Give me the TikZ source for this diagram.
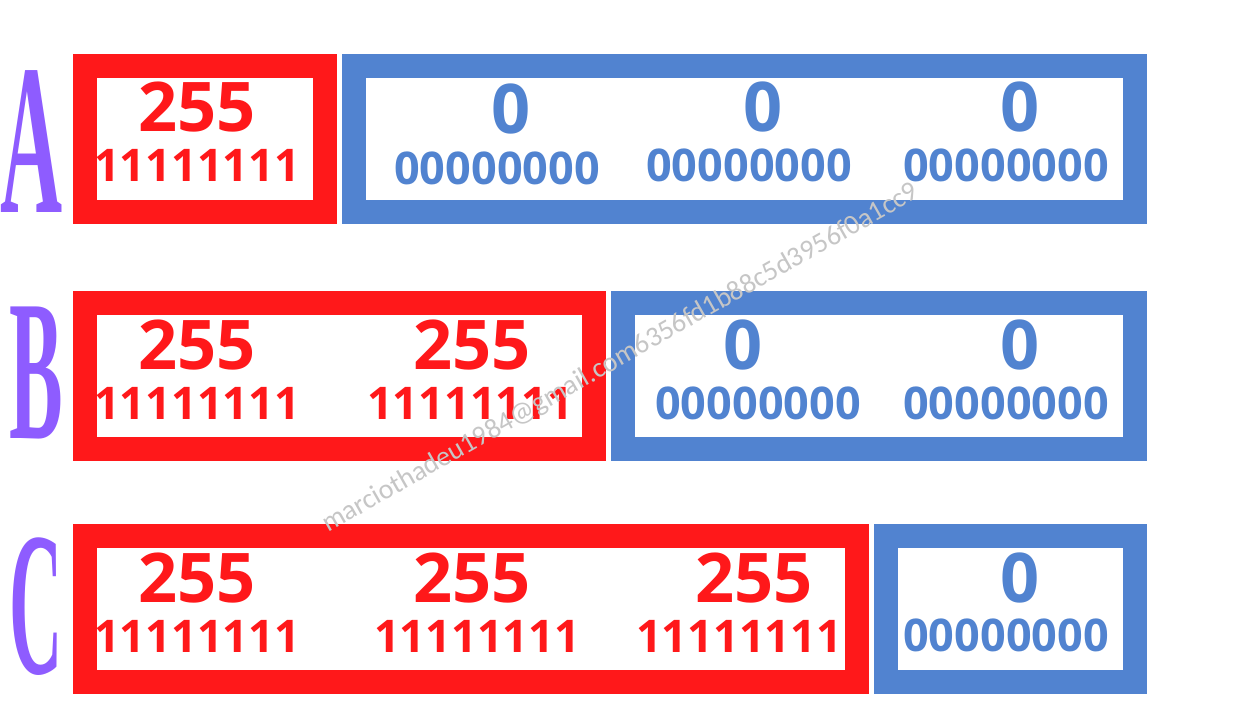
\documentclass[tikz,border=0pt]{standalone}
\usepackage{fontspec}
\setmainfont{Open Sans}
\newfontfamily\digitfont{Open Sans}[UprightFont=* Bold]
\newfontfamily\letterfont{Liberation Serif}[UprightFont=* Bold]
\newfontfamily\wmfont{Carlito}
\definecolor{myred}{RGB}{255,24,26}
\definecolor{myblue}{RGB}{81,131,208}
\definecolor{mypurple}{RGB}{142,92,255}
\definecolor{wmgray}{RGB}{198,198,198}
\tikzset{
  box/.style={line width=24pt, fill=white, inner sep=0pt, outer sep=0pt, minimum height=146pt},
  redbox/.style={box, draw=myred},
  bluebox/.style={box, draw=myblue},
  bignum/.style={anchor=base, inner sep=0pt, font=\digitfont\fontsize{68.5}{68.5}\selectfont},
  smallnum/.style={anchor=base, inner sep=0pt, font=\digitfont\fontsize{45}{45}\selectfont},
  rednum/.style={text=myred},
  bluenum/.style={text=myblue},
  rowletter/.style={anchor=base, inner sep=0pt, text=mypurple},
}
\begin{document}
\begin{tikzpicture}[x=1pt,y=-1pt]
\useasboundingbox[fill=white] (0,0) rectangle (1256,706);
% boxes
\node[redbox, minimum width=240pt] (ra) at (205,139) {};
\node[bluebox, minimum width=781pt] (ba) at (744.5,139) {};
\node[redbox, minimum width=509pt] (rb) at (339.5,376) {};
\node[bluebox, minimum width=512pt] (bb) at (879,376) {};
\node[redbox, minimum width=772pt] (rc) at (471,609) {};
\node[bluebox, minimum width=249pt] (bc) at (1010.5,609) {};
% row letters
\node[rowletter] (la) at (32,212) {\scalebox{0.4}[1]{\letterfont\fontsize{215}{215}\selectfont A}};
\node[rowletter] (lb) at (36,438) {\scalebox{0.4}[1]{\letterfont\fontsize{201}{201}\selectfont B}};
\node[rowletter] (lc) at (36,673) {\scalebox{0.36}[1]{\letterfont\fontsize{205}{205}\selectfont C}};
% row A
\node[bignum, rednum] (a1) at (197,132) {255};
\node[smallnum, rednum] (a1b) at (197,182) {11111111};
\node[bignum, bluenum] (a2) at (511,134) {0};
\node[smallnum, bluenum] (a2b) at (497,184) {00000000};
\node[bignum, bluenum] (a3) at (763,132) {0};
\node[smallnum, bluenum] (a3b) at (749,182) {00000000};
\node[bignum, bluenum] (a4) at (1020,132) {0};
\node[smallnum, bluenum] (a4b) at (1006,182) {00000000};
% row B
\node[bignum, rednum] (b1) at (197,369) {255};
\node[smallnum, rednum] (b1b) at (197,419) {11111111};
\node[bignum, rednum] (b2) at (472,369) {255};
\node[smallnum, rednum] (b2b) at (470,419) {11111111};
\node[bignum, bluenum] (b3) at (743,369) {0};
\node[smallnum, bluenum] (b3b) at (758,419) {00000000};
\node[bignum, bluenum] (b4) at (1020,369) {0};
\node[smallnum, bluenum] (b4b) at (1006,419) {00000000};
% row C
\node[bignum, rednum] (c1) at (197,602) {255};
\node[smallnum, rednum] (c1b) at (197,652) {11111111};
\node[bignum, rednum] (c2) at (472,602) {255};
\node[smallnum, rednum] (c2b) at (477,652) {11111111};
\node[bignum, rednum] (c3) at (754,602) {255};
\node[smallnum, rednum] (c3b) at (739,652) {11111111};
\node[bignum, bluenum] (c4) at (1020,602) {0};
\node[smallnum, bluenum] (c4b) at (1006,651) {00000000};
% watermark
\node[anchor=base west, inner sep=0pt, text=wmgray, rotate=29.6, font=\wmfont\fontsize{28}{28}\selectfont] (wm) at (328,533) {marciothadeu1984@gmail.com6356fd1b88c5d3956f0a1cc9};
\end{tikzpicture}
\end{document}
